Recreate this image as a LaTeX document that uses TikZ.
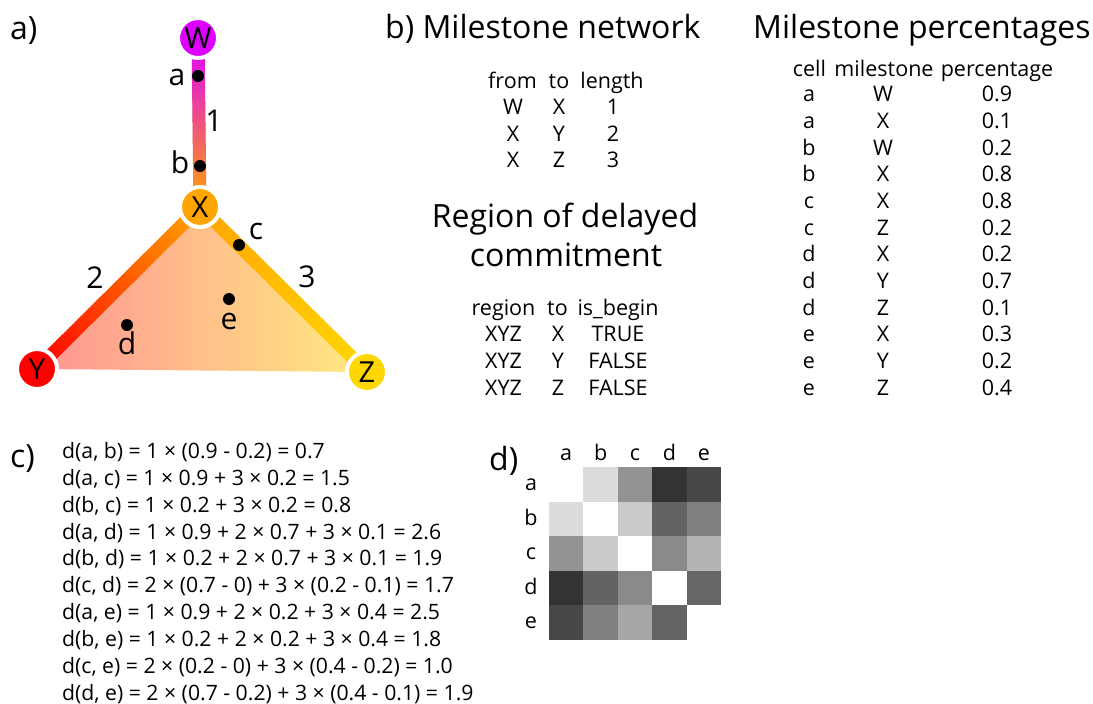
\documentclass[tikz,border=0pt]{standalone}
\usepackage{fontspec}
\setmainfont{Open Sans}
\usetikzlibrary{calc}
\definecolor{cW}{HTML}{DD00FF}
\definecolor{cX}{HTML}{FFA500}
\definecolor{cY}{HTML}{FF0000}
\definecolor{cZ}{HTML}{FFD700}
\newcommand\fsz[1]{\fontsize{#1pt}{#1pt}\selectfont}
\pgfdeclarelayer{bg}
\pgfsetlayers{bg,main}
\tikzset{
  title/.style={anchor=base, inner sep=0, font=\fsz{32}},
  titlel/.style={anchor=base west, inner sep=0, font=\fsz{32}},
  tab/.style={anchor=base, inner sep=0, font=\fsz{21.5}},
  eq/.style={anchor=base west, inner sep=0, font=\fsz{21.2}},
  mnode/.style={circle, draw=white, line width=4pt, minimum size=40pt, inner sep=0, font=\fsz{29}},
  dot/.style={circle, fill=black, minimum size=12pt, inner sep=0},
  plabel/.style={inner sep=0, font=\fsz{30}},
  cellbox/.style={minimum width=34.4pt, minimum height=34.5pt, inner sep=0, draw=none},
  edgeseg/.style={line width=13pt, line cap=butt}
}
\begin{document}
\begin{tikzpicture}[x=1pt,y=-1pt]
\useasboundingbox (0,0) rectangle (1093,704);

% ---------- a) ----------
\node[titlel] (la) at (10,39) {a)};
\node[mnode, fill=cW] (W) at (198,38) {W};
\node[mnode, fill=cX] (X) at (200,207) {X};
\node[mnode, fill=cY] (Y) at (37,369) {Y};
\node[mnode, fill=cZ] (Z) at (367,372) {Z};

\begin{pgfonlayer}{bg}
  \shade[left color=cY!42!white, middle color=cX!45!white, right color=cZ!50!white]
    (X.center) -- (Y.center) -- (Z.center) -- cycle;
  \foreach \i in {0,...,59}{
    \pgfmathsetmacro\ta{\i/60}
    \pgfmathsetmacro\tb{(\i+1.4)/60}
    \pgfmathsetmacro\p{100-100*(\i+0.5)/60}
    \draw[edgeseg, color=cW!\p!cX] ($(W.center)!\ta!(X.center)$) -- ($(W.center)!\tb!(X.center)$);
    \draw[edgeseg, color=cX!\p!cY] ($(X.center)!\ta!(Y.center)$) -- ($(X.center)!\tb!(Y.center)$);
    \draw[edgeseg, color=cX!\p!cZ] ($(X.center)!\ta!(Z.center)$) -- ($(X.center)!\tb!(Z.center)$);
  }
\end{pgfonlayer}

\node[dot] (a) at (198,76) {};
\node[dot] (b) at (200,166) {};
\node[dot] (c) at (239,245) {};
\node[dot] (d) at (127,325) {};
\node[dot] (e) at (229,299) {};
\node[plabel] (la2) at (177,77) {a};
\node[plabel] (lb2) at (180,162) {b};
\node[plabel] (lc2) at (256,231) {c};
\node[plabel] (ld2) at (127,343) {d};
\node[plabel] (le2) at (229,321) {e};
\node[plabel] (l1) at (214,121) {1};
\node[plabel] (l2) at (95,278) {2};
\node[plabel] (l3) at (307,277) {3};

% ---------- b) ----------
\node[titlel] (tb) at (385,38) {b) Milestone network};
\node[tab] (h1) at (512.5,88) {from};
\node[tab] (h2) at (559,88) {to};
\node[tab] (h3) at (612,88) {length};
\foreach \f/\t/\l [count=\k] in {W/X/1, X/Y/2, X/Z/3}{
  \node[tab] (nf\k) at (513,{88+26.5*\k}) {\f};
  \node[tab] (nt\k) at (559,{88+26.5*\k}) {\t};
  \node[tab] (nl\k) at (613,{88+26.5*\k}) {\l};
}
\node[title] (tr1) at (565,227) {Region of delayed};
\node[title] (tr2) at (566,266) {commitment};
\node[tab] (r1) at (503.5,315) {region};
\node[tab] (r2) at (557.5,315) {to};
\node[tab] (r3) at (618,315) {is\_begin};
\foreach \t/\b [count=\k] in {X/TRUE, Y/FALSE, Z/FALSE}{
  \node[tab] (rr\k) at (503.5,{315+26.9*\k}) {XYZ};
  \node[tab] (rt\k) at (558,{315+26.9*\k}) {\t};
  \node[tab] (rb\k) at (618,{315+26.9*\k}) {\b};
}

% ---------- percentages ----------
\node[titlel] (tp) at (753,38) {Milestone percentages};
\node[tab] (p1) at (809.5,76) {cell};
\node[tab] (p2) at (884,76) {milestone};
\node[tab] (p3) at (997,76) {percentage};
\foreach \c/\m/\v [count=\k] in {a/W/0.9, a/X/0.1, b/W/0.2, b/X/0.8, c/X/0.8, c/Z/0.2, d/X/0.2, d/Y/0.7, d/Z/0.1, e/X/0.3, e/Y/0.2, e/Z/0.4}{
  \node[tab] (pc\k) at (809,{75+26.67*\k}) {\c};
  \node[tab] (pm\k) at (883,{75+26.67*\k}) {\m};
  \node[tab] (pv\k) at (997,{75+26.67*\k}) {\v};
}

% ---------- c) ----------
\node[titlel] (lc) at (10,467) {c)};
\foreach \s [count=\k from 0] in {
  {d(a, b) = 1 × (0.9 - 0.2) = 0.7},
  {d(a, c) = 1 × 0.9 + 3 × 0.2 = 1.5},
  {d(b, c) = 1 × 0.2 + 3 × 0.2 = 0.8},
  {d(a, d) = 1 × 0.9 + 2 × 0.7 + 3 × 0.1 = 2.6},
  {d(b, d) = 1 × 0.2 + 2 × 0.7 + 3 × 0.1 = 1.9},
  {d(c, d) = 2 × (0.7 - 0) + 3 × (0.2 - 0.1) = 1.7},
  {d(a, e) = 1 × 0.9 + 2 × 0.2 + 3 × 0.4 = 2.5},
  {d(b, e) = 1 × 0.2 + 2 × 0.2 + 3 × 0.4 = 1.8},
  {d(c, e) = 2 × (0.2 - 0) + 3 × (0.4 - 0.2) = 1.0},
  {d(d, e) = 2 × (0.7 - 0.2) + 3 × (0.4 - 0.1) = 1.9}}{
  \node[eq] (eq\k) at (62,{458.5+26.85*\k}) {\s};
}

% ---------- d) ----------
\node[titlel] (ld) at (489,470) {d)};
\foreach \r/\c/\g in {1/2/220,1/3/147,1/4/51,1/5/71,
                      2/1/220,2/3/202,2/4/99,2/5/129,
                      3/1/147,3/2/202,3/4/138,3/5/180,
                      4/1/51,4/2/99,4/3/138,4/5/102,
                      5/1/71,5/2/129,5/3/166,5/4/100}{
  \node[cellbox, fill={rgb,255:red,\g;green,\g;blue,\g}] (m\r\c) at ({549+34.4*(\c-0.5)},{467.3+34.5*(\r-0.5)}) {};
}
\foreach \n [count=\k] in {a,b,c,d,e}{
  \node[tab] (mc\k) at ({549+34.4*(\k-0.5)},460) {\n};
  \node[tab] (mr\k) at (531,{467.3+34.5*(\k-0.5)+6}) {\n};
}
\end{tikzpicture}
\end{document}
